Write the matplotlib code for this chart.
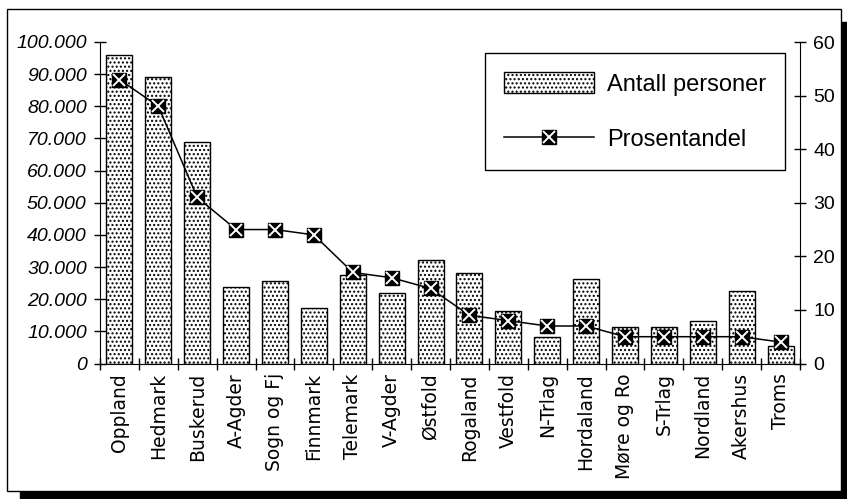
import matplotlib
matplotlib.use("Agg")
import matplotlib.pyplot as plt
import matplotlib.patches as mpatches
import matplotlib.ticker as ticker
import numpy as np

plt.rcParams['hatch.linewidth'] = 1.0
plt.rcParams['hatch.color'] = '#333333'

fylker = ['Oppland', 'Hedmark', 'Buskerud', 'A-Agder', 'Sogn og Fj', 'Finnmark',
          'Telemark', 'V-Agder', 'Østfold', 'Rogaland', 'Vestfold', 'N-Trlag',
          'Hordaland', 'Møre og Ro', 'S-Trlag', 'Nordland', 'Akershus', 'Troms']
antall = [96000, 89000, 69000, 23800, 25700, 17400, 27400, 22000, 32300,
          28200, 16300, 8200, 26300, 11500, 11500, 13100, 22500, 5400]
prosent = [53, 48, 31, 25, 25, 24, 17, 16, 14, 9, 8, 7, 7, 5, 5, 5, 5, 4]

W, H = 847, 499
fig = plt.figure(figsize=(W / 100, H / 100), dpi=100)

# frame with drop shadow
def px(x, y):
    return x / W, 1 - y / H

sx, sy = px(20, 499)
fig.patches.append(mpatches.Rectangle((sx, sy), 1 - sx, px(0, 22)[1] - sy,
                                      transform=fig.transFigure, color='black', zorder=0))
fx, fy = px(7, 491)
fig.patches.append(mpatches.Rectangle((fx, fy), px(841, 0)[0] - fx, px(0, 9)[1] - fy,
                                      transform=fig.transFigure, facecolor='white',
                                      edgecolor='black', linewidth=1.0, zorder=1))

l, b = px(100, 363.5)
r, t = px(800, 42)
ax = fig.add_axes([l, b, r - l, t - b])
ax.set_zorder(3)
ax.patch.set_visible(False)

x = np.arange(len(fylker))
bars = ax.bar(x, antall, width=0.67, facecolor='white', edgecolor='black',
              linewidth=1.0, hatch='....', label='Antall personer')

ax.set_xlim(-0.5, len(fylker) - 0.5)
ax.set_ylim(0, 100000)
ax.yaxis.set_major_locator(ticker.MultipleLocator(10000))
ax.yaxis.set_major_formatter(ticker.FuncFormatter(lambda v, p: '{:,.0f}'.format(v).replace(',', '.')))
ax.spines['top'].set_visible(False)
ax.spines['right'].set_visible(False)
ax.tick_params(axis='y', direction='inout', length=9, width=1.0, pad=5)
for lab in ax.get_yticklabels():
    lab.set_fontstyle('italic')
    lab.set_fontfamily('Liberation Sans')
    lab.set_fontsize(14)

ax.set_xticks(x)
ax.set_xticklabels(fylker, rotation=90, fontsize=13.5, family='DejaVu Sans')
ax.tick_params(axis='x', which='major', length=0, pad=7)
ax.set_xticks(np.arange(-0.5, len(fylker), 1.0), minor=True)
ax.tick_params(axis='x', which='minor', direction='inout', length=9, width=1.0)

ax2 = ax.twinx()
ax2.set_ylim(0, 60)
ax2.yaxis.set_major_locator(ticker.MultipleLocator(10))
ax2.spines['top'].set_visible(False)
ax2.spines['left'].set_visible(False)
ax2.spines['bottom'].set_visible(False)
ax2.tick_params(axis='y', direction='inout', length=9, width=1.0, pad=5)
for lab in ax2.get_yticklabels():
    lab.set_fontfamily('Liberation Sans')
    lab.set_fontsize(14)

line, = ax2.plot(x, prosent, color='black', linewidth=1.1, marker='s',
                 markersize=10.5, markerfacecolor='black', markeredgecolor='black')
xm, = ax2.plot(x, prosent, linestyle='None', marker='x', markersize=9,
               markeredgecolor='white', markeredgewidth=1.4)

# legend
lx0, ly0 = 482, 53
lx1, ly1 = 785, 176
bx, by = (lx1 - 100) / 700, (363.5 - ly0) / 321.5
leg = ax2.legend([bars, (line, xm)], ['Antall personer', 'Prosentandel'],
                 loc='upper right', bbox_to_anchor=(bx, by), numpoints=1,
                 prop={'family': 'Liberation Sans', 'size': 17},
                 frameon=True, fancybox=False, shadow=False, edgecolor='black',
                 framealpha=1, borderpad=0.8, borderaxespad=0,
                 handlelength=3.8, handleheight=1.0, handletextpad=0.55,
                 labelspacing=1.35)
leg.get_frame().set_linewidth(1.0)

fig.savefig('out.png', dpi=100)
